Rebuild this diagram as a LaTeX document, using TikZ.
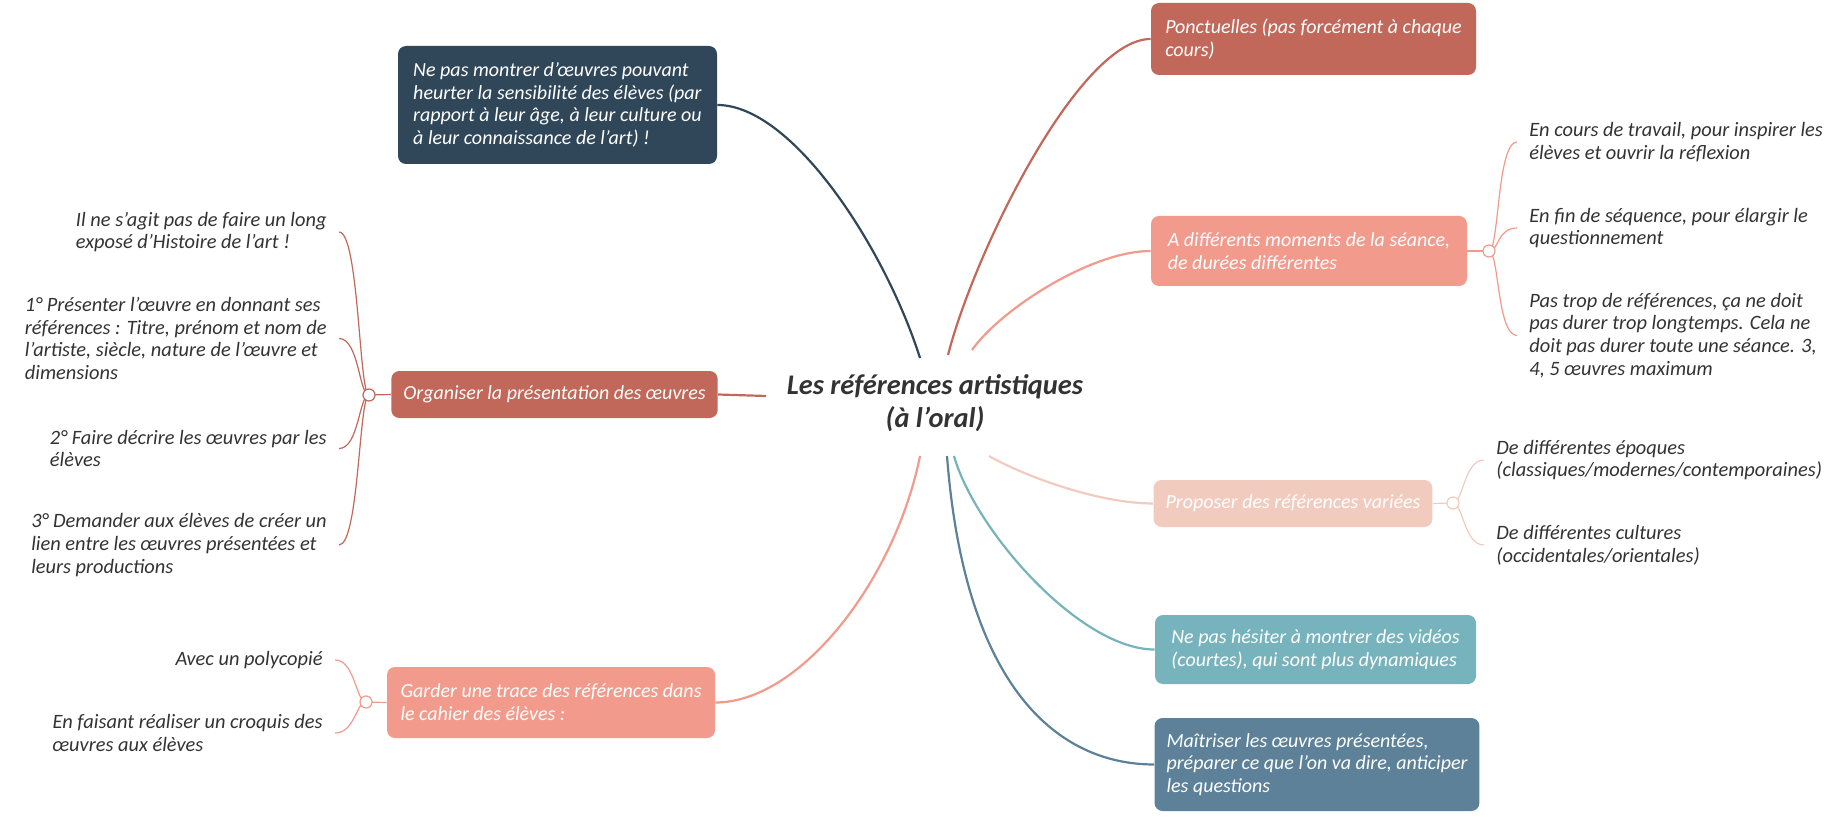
\documentclass[tikz,border=0pt]{standalone}
\usepackage{fontspec}
\setmainfont{Carlito}

\definecolor{ardoise}{HTML}{30475A}
\definecolor{brique}{HTML}{C2685B}
\definecolor{saumon}{HTML}{F29B8C}
\definecolor{peche}{HTML}{F2CBBF}
\definecolor{turquoise}{HTML}{77B3BD}
\definecolor{acier}{HTML}{5C8198}
\definecolor{encre}{HTML}{333333}

\tikzset{
  theme/.style={rounded corners=4pt, align=left, inner xsep=6pt, text=white,
    font=\fontsize{10}{11.4}\selectfont\itshape},
  idee/.style={align=left, inner xsep=6pt, inner ysep=2pt, text=encre,
    font=\fontsize{10.2}{11.4}\selectfont\itshape},
  branche/.style={line width=1.1pt},
  brindille/.style={line width=0.6pt},
  noeud/.style={circle, fill=white, line width=0.6pt, inner sep=0pt, minimum size=6pt},
}

\begin{document}
\begin{tikzpicture}[x=0.5pt, y=-0.5pt]

\path[use as bounding box, fill=white] (0,0) rectangle (1836,818);

% centre
\node[align=center, text=encre, font=\fontsize{14.2}{16.5}\selectfont\bfseries\itshape] (titre) at (935,403)
  {Les références artistiques\\(à l'oral)};

% themes de gauche
\node[theme, fill=ardoise, minimum width=159.5pt, minimum height=59pt] (montrer) at (557.5,105)
  {Ne pas montrer d'œuvres pouvant\\heurter la sensibilité des élèves (par\\rapport à leur âge, à leur culture ou\\à leur connaissance de l'art) !};
\node[theme, fill=brique, minimum width=162.5pt, minimum height=23.5pt] (organiser) at (554.5,394.5)
  {Organiser la présentation des œuvres};
\node[theme, fill=saumon, minimum width=164pt, minimum height=35.5pt] (garder) at (551,702.5)
  {Garder une trace des références dans\\le cahier des élèves :};

% themes de droite
\node[theme, fill=brique, minimum width=162.5pt, minimum height=36pt] (ponctuelles) at (1313.5,39)
  {Ponctuelles (pas forcément à chaque\\cours)};
\node[theme, fill=saumon, minimum width=158pt, minimum height=35pt] (moments) at (1309,251)
  {A différents moments de la séance,\\de durées différentes};
\node[theme, fill=peche, minimum width=138pt, minimum height=23.5pt] (variees) at (1293,503.5)
  {Proposer des références variées};
\node[theme, fill=turquoise, minimum width=160.5pt, minimum height=34.5pt] (videos) at (1315.5,649.5)
  {Ne pas hésiter à montrer des vidéos\\(courtes), qui sont plus dynamiques};
\node[theme, fill=acier, minimum width=162pt, minimum height=46.5pt] (maitriser) at (1317,764.5)
  {Maîtriser les œuvres présentées,\\préparer ce que l'on va dire, anticiper\\les questions};

% idees
\node[idee, anchor=east] (org1) at (339,232) {Il ne s'agit pas de faire un long\\exposé d'Histoire de l'art !};
\node[idee, anchor=east] (org2) at (339,338.5) {1° Présenter l'œuvre en donnant ses\\références : Titre, prénom et nom de\\l'artiste, siècle, nature de l'œuvre et\\dimensions};
\node[idee, anchor=east] (org3) at (339,448.5) {2° Faire décrire les œuvres par les\\élèves};
\node[idee, anchor=east] (org4) at (339,545) {3° Demander aux élèves de créer un\\lien entre les œuvres présentées et\\leurs productions};
\node[idee, anchor=east] (gar1) at (335,660) {Avec un polycopié};
\node[idee, anchor=east] (gar2) at (335,733) {En faisant réaliser un croquis des\\œuvres aux élèves};
\node[idee, anchor=west] (mom1) at (1517,142) {En cours de travail, pour inspirer les\\élèves et ouvrir la réflexion};
\node[idee, anchor=west] (mom2) at (1517,228) {En fin de séquence, pour élargir le\\questionnement};
\node[idee, anchor=west] (mom3) at (1517,335.5) {Pas trop de références, ça ne doit\\pas durer trop longtemps. Cela ne\\doit pas durer toute une séance. 3,\\4, 5 œuvres maximum};
\node[idee, anchor=west] (var1) at (1484,460) {De différentes époques\\(classiques/modernes/contemporaines)};
\node[idee, anchor=west] (var2) at (1484,545) {De différentes cultures\\(occidentales/orientales)};

% points d'attache autour du titre
\coordinate (hMontrer) at (920,358);
\coordinate (hPonct) at (948,355);
\coordinate (hMoments) at (972,350);
\coordinate (hOrganiser) at (766,396);
\coordinate (hGarder) at (920,456);
\coordinate (hMaitriser) at (947,456);
\coordinate (hVideos) at (954,456);
\coordinate (hVariees) at (989,456);

\coordinate (cOrg) at (369,395);
\coordinate (cGar) at (366,702);
\coordinate (cMom) at (1489,251);
\coordinate (cVar) at (1453,503);

% branches
\draw[branche, ardoise] (montrer.east) .. controls +(75,0) and +(-35,-110) .. (hMontrer);
\draw[branche, brique] (organiser.east) -- (hOrganiser);
\draw[branche, saumon] (garder.east) .. controls +(85,0) and +(-25,124) .. (hGarder);
\draw[branche, brique] (ponctuelles.west) .. controls +(-71,0) and +(27,-105) .. (hPonct);
\draw[branche, saumon] (moments.west) .. controls +(-60,0) and +(28,-40) .. (hMoments);
\draw[branche, peche] (variees.west) .. controls +(-55,0) and +(35,20) .. (hVariees);
\draw[branche, turquoise] (videos.west) .. controls +(-75,0) and +(21,74) .. (hVideos);
\draw[branche, acier] (maitriser.west) .. controls +(-95,0) and +(18,234) .. (hMaitriser);

% sous-branches
\foreach \n in {org1,org2,org3,org4}
  \draw[brindille, brique] (cOrg) .. controls +(-10,0) and +(20,0) .. (\n.east);
\foreach \n in {gar1,gar2}
  \draw[brindille, saumon] (cGar) .. controls +(-10,0) and +(20,0) .. (\n.east);
\foreach \n in {mom1,mom2,mom3}
  \draw[brindille, saumon] (cMom) .. controls +(10,0) and +(-20,0) .. (\n.west);
\foreach \n in {var1,var2}
  \draw[brindille, peche] (cVar) .. controls +(10,0) and +(-20,0) .. (\n.west);

\draw[brindille, brique] (cOrg) -- (organiser.west);
\draw[brindille, saumon] (cGar) -- (garder.west);
\draw[brindille, saumon] (cMom) -- (moments.east);
\draw[brindille, peche] (cVar) -- (variees.east);

\node[noeud, draw=brique] at (cOrg) {};
\node[noeud, draw=saumon] at (cGar) {};
\node[noeud, draw=saumon] at (cMom) {};
\node[noeud, draw=peche] at (cVar) {};

\end{tikzpicture}
\end{document}
